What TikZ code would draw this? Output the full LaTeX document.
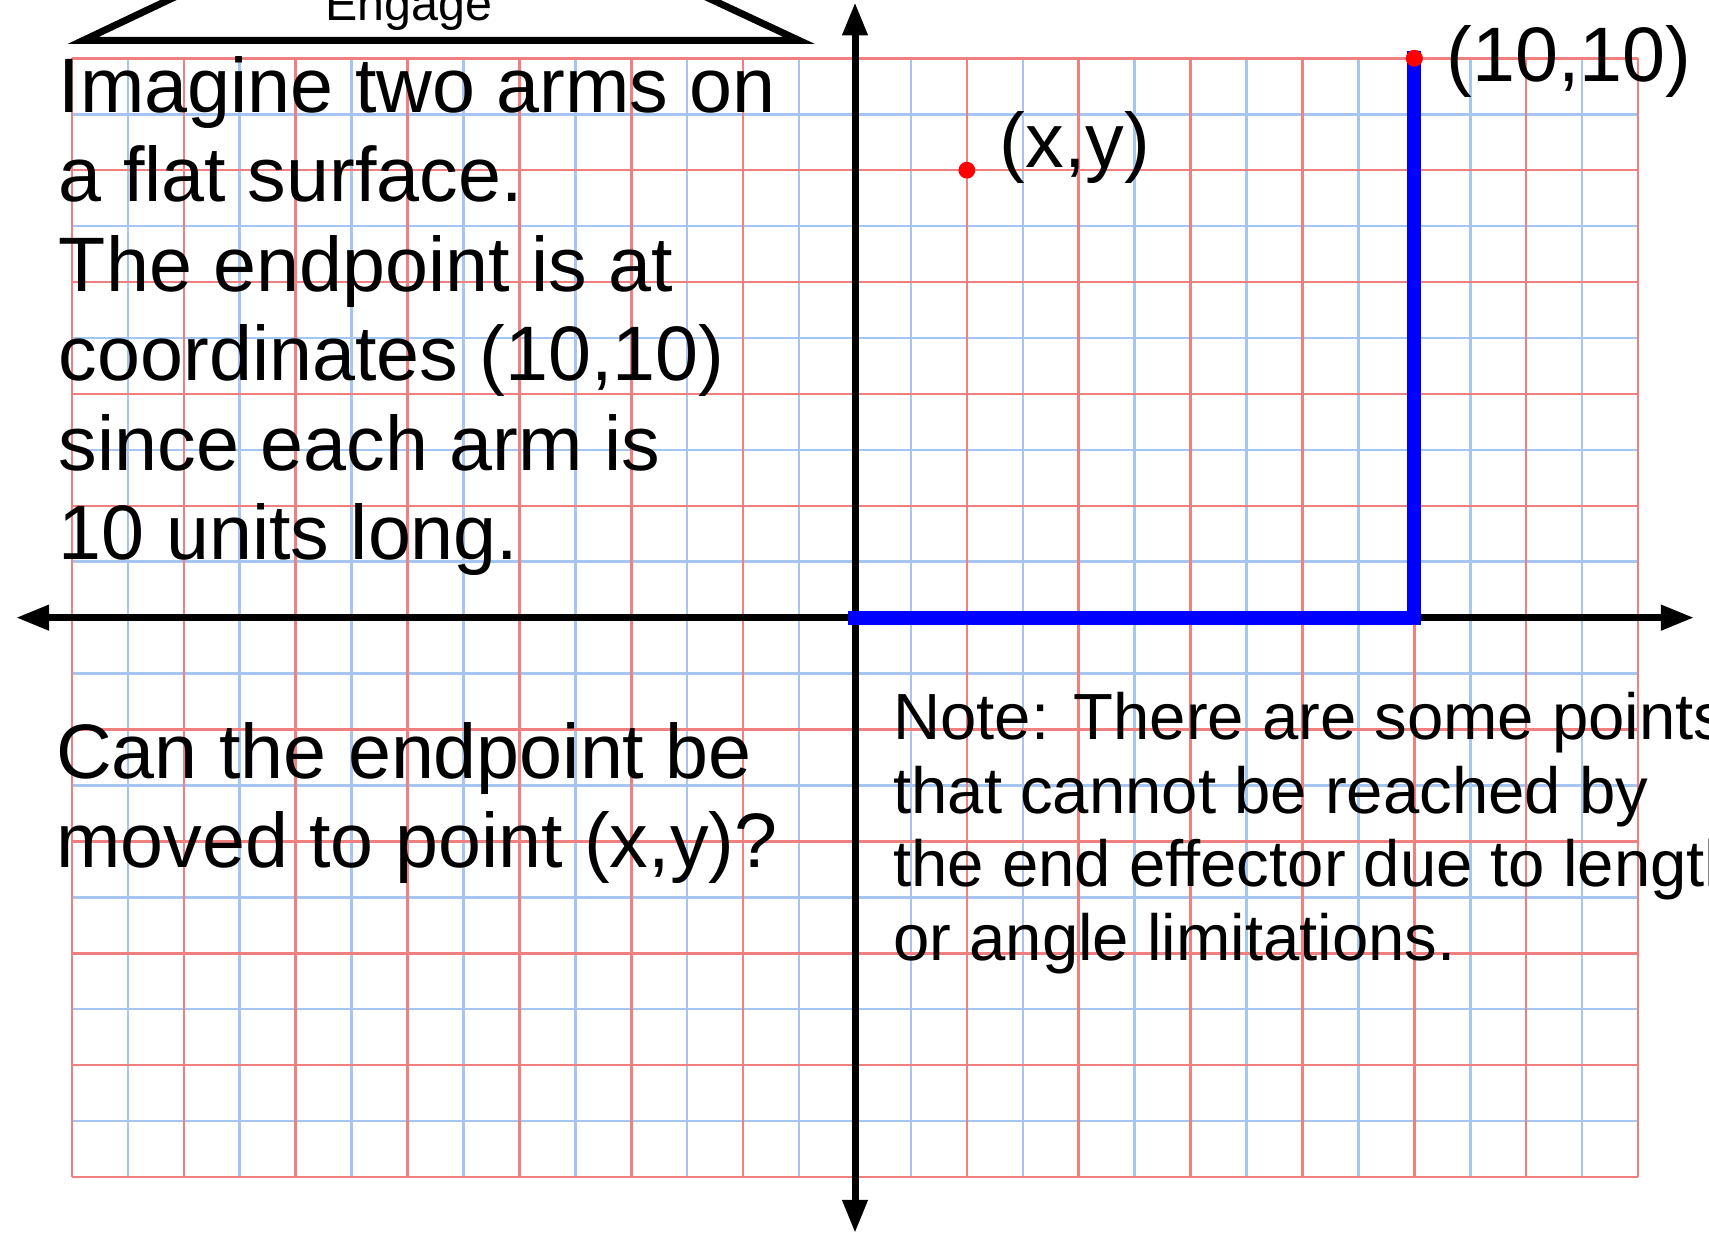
\documentclass[tikz,border=0pt]{standalone}
\usepackage{fontspec}
\setmainfont{Liberation Sans}
\usetikzlibrary{arrows.meta}
\definecolor{gridred}{RGB}{240,128,128}
\definecolor{gridblue}{RGB}{164,198,240}
\begin{document}
\begin{tikzpicture}[
    axis/.style={
        line width=0.125cm,
        {Triangle[length=0.59cm,width=0.43cm]}-{Triangle[length=0.59cm,width=0.43cm]}
    },
    arm/.style={
        blue,
        line width=0.25cm,
        line cap=rect
    },
    dot/.style={
        circle,
        fill=red,
        inner sep=0pt,
        minimum size=0.3cm
    },
    bigtext/.style={
        inner sep=0pt,
        anchor=base west,
        align=left,
        font=\fontsize{39.3}{45.5}\selectfont
    },
    notetext/.style={
        inner sep=0pt,
        anchor=base west,
        align=left,
        font=\fontsize{33.2}{37.5}\selectfont
    }
]
    \useasboundingbox (-15.287,-11.122) rectangle (15.269,11.043);

    % Grid paper
    \foreach \x in {-13,-11,...,13}
        \draw[gridblue, line width=1.3pt] (\x,-10) -- (\x,10);
    \foreach \y in {-9,-7,...,9}
        \draw[gridblue, line width=1.3pt] (-14,\y) -- (14,\y);
    \foreach \x in {-14,-12,...,14}
        \draw[gridred, line width=1.3pt] (\x,-10) -- (\x,10);
    \foreach \y in {-10,-8,...,10}
        \draw[gridred, line width=1.3pt] (-14,\y) -- (14,\y);

    \coordinate (xleft) at (-15,0);
    \coordinate (xright) at (15,0);
    \coordinate (ybottom) at (0,-11);
    \coordinate (ytop) at (0,11);

    \draw[axis] (xleft) -- (xright);
    \draw[axis] (ybottom) -- (ytop);

    % Helper points for the arm
    \coordinate (origin) at (0,0);
    \coordinate (elbow) at (10,0);

    \node[dot] (tip) at (10,10) {};
    \node[dot] (target) at (2,8) {};

    \draw[arm]
        (origin) --
        (elbow) --
        (tip.center);
    \node[dot] at (tip) {};

    \draw[line width=0.125cm]
        (-11.1,11.6) -- (-13.8,10.32) -- (-1.0,10.32) -- (-3.74,11.6);
    \node[inner sep=0pt, anchor=base, font=\fontsize{24.6}{28}\selectfont] (engage)
        at (-7.98,10.67) {Engage};

    % anchor=base takes the last line
    \node[bigtext] (armtext) at (-14.24,1.04)
        {Imagine two arms on\\
        a flat surface.\\
        The endpoint is at\\
        coordinates (10,10)\\
        since each arm is\\
        10 units long.};

    \node[bigtext, font=\fontsize{39.3}{45}\selectfont] (question) at (-14.29,-4.46)
        {Can the endpoint be\\
        moved to point (x,y)?};

    \node[notetext] (note) at (0.68,-6.131)
        {Note: There are some points\\
        that cannot be reached by\\
        the end effector due to length\\
        or angle limitations.};

    \node[bigtext] (xylabel) at (2.58,8.05) {(x,y)};
    \node[bigtext] (endlabel) at (10.57,9.58) {(10,10)};
\end{tikzpicture}
\end{document}
